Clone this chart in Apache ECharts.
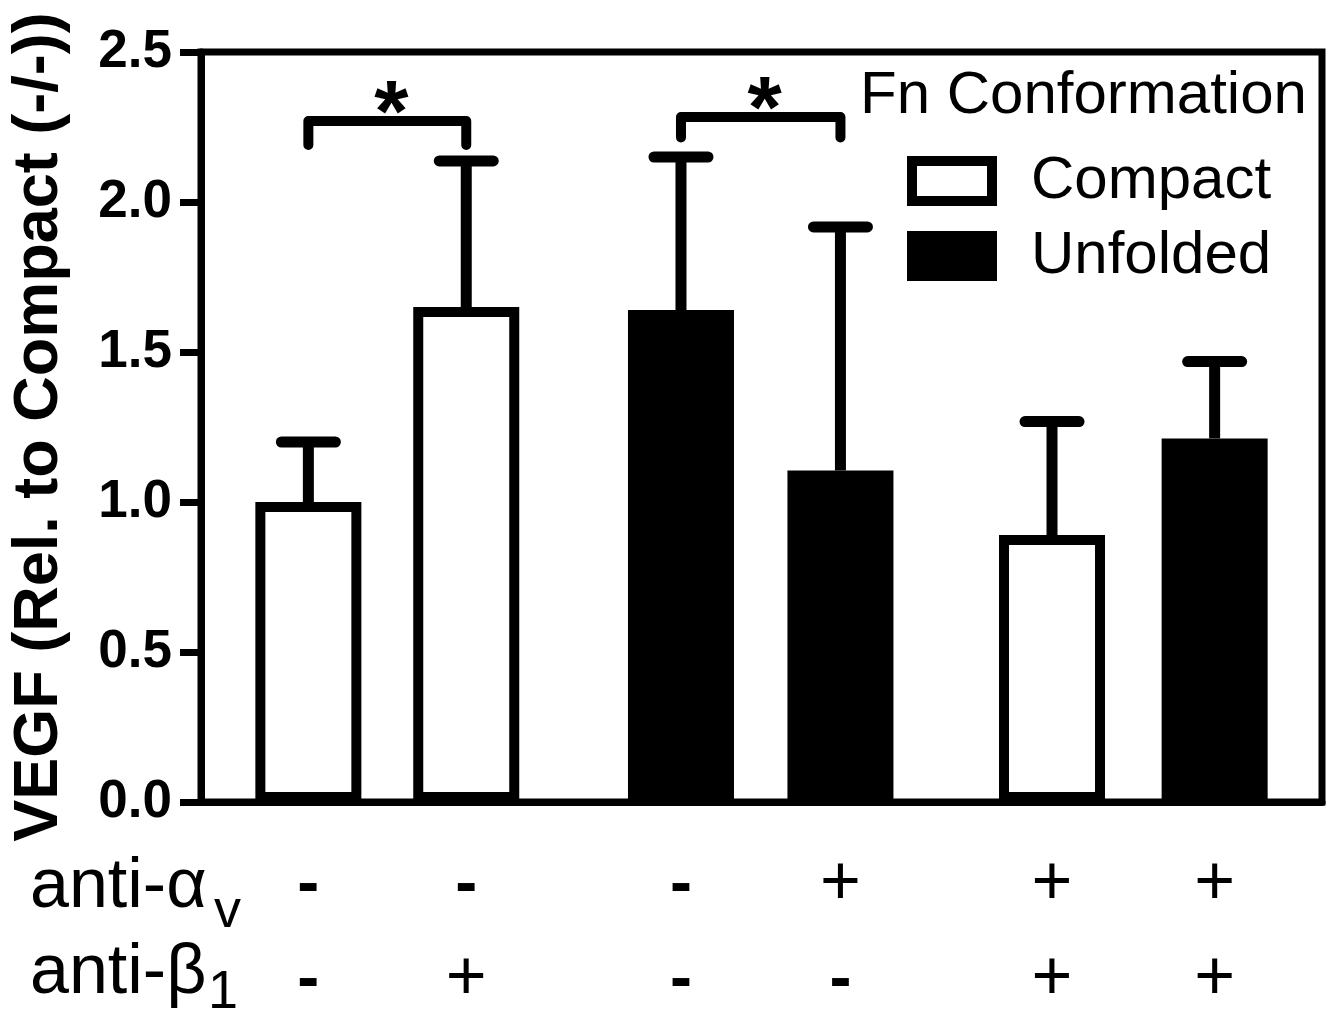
<!DOCTYPE html>
<html>
<head>
<meta charset="utf-8">
<script src="https://cdn.jsdelivr.net/npm/echarts@6/dist/echarts.min.js"></script>
<style>html,body{margin:0;padding:0;background:#fff}#c{width:1335px;height:1020px}</style>
</head>
<body>
<div id="c"></div>
<script>
// ---- data ----
const barPos = [0.68, 1.68, 3.04, 4.05, 5.39, 6.42];
const conformation = ['Compact', 'Compact', 'Unfolded', 'Unfolded', 'Compact', 'Unfolded'];
const means = [1.00, 1.65, 1.64, 1.105, 0.89, 1.212];
const errUpper = [1.20, 2.137, 2.15, 1.917, 1.268, 1.468];
const antiAv = ['-', '-', '-', '+', '+', '+'];
const antiB1 = ['-', '+', '-', '-', '+', '+'];
const brackets = [[0, 1, 2.27, 2.19], [2, 3, 2.283, 2.215]];
const bracketLabels = ['*', '*'];
const seriesNames = ['Compact', 'Unfolded'];
const legendTitle = 'Fn Conformation';
const yTitle = 'VEGF (Rel. to Compact (-/-))';

const FONT = 'Liberation Sans, Arial, Helvetica, sans-serif';

function seriesData(name) {
  const out = [];
  barPos.forEach((x, i) => { if (conformation[i] === name) out.push([x, means[i]]); });
  return out;
}

const chart = echarts.init(document.getElementById('c'), null, { renderer: 'canvas' });

const option = {
  animation: false,
  backgroundColor: '#fff',
  textStyle: { fontFamily: FONT, color: '#000' },
  title: {
    text: legendTitle, left: 860, top: 66, padding: 0,
    textStyle: { fontFamily: FONT, fontSize: 60, fontWeight: 'normal', color: '#000' }
  },
  legend: {
    data: seriesNames, orient: 'vertical', left: 907, top: 151,
    itemWidth: 80, itemHeight: 40, itemGap: 15, icon: 'rect', selectedMode: false,
    padding: 0,
    itemStyle: { borderColor: '#000', borderWidth: 10 },
    textStyle: { fontFamily: FONT, fontSize: 60, color: '#000', padding: [0, 0, 0, 34] }
  },
  grid: {
    left: 201, right: 13, top: 52, bottom: 218,
    show: true, borderColor: '#000', borderWidth: 7, backgroundColor: 'transparent'
  },
  xAxis: {
    type: 'value', min: 0, max: 7.1,
    axisLine: { show: true, lineStyle: { color: '#000', width: 7 } },
    axisTick: { show: false }, axisLabel: { show: false }, splitLine: { show: false }
  },
  yAxis: {
    type: 'value', min: 0, max: 2.5, interval: 0.5,
    name: yTitle, nameLocation: 'middle', nameGap: 130,
    nameTextStyle: { fontFamily: FONT, fontSize: 63, fontWeight: 'bold', color: '#000' },
    axisLine: { show: true, lineStyle: { color: '#000', width: 7 } },
    axisTick: { show: true, length: 21, lineStyle: { color: '#000', width: 7 } },
    axisLabel: {
      margin: 29, fontFamily: FONT, fontSize: 53, fontWeight: 'bold', color: '#000',
      formatter: v => v.toFixed(1)
    },
    splitLine: { show: false }
  },
  series: [
    {
      name: 'Compact', type: 'bar', data: seriesData('Compact'),
      barWidth: 106, barGap: '-100%', z: 2,
      itemStyle: { color: '#fff', borderColor: '#000', borderWidth: 10 }
    },
    {
      name: 'Unfolded', type: 'bar', data: seriesData('Unfolded'),
      barWidth: 106, barGap: '-100%', z: 2,
      itemStyle: { color: '#000', borderColor: '#000', borderWidth: 10 }
    },
    {
      name: 'error', type: 'custom', z: 3,
      data: barPos.map((x, i) => [x, means[i], errUpper[i]]),
      renderItem: function (params, api) {
        const x = api.value(0), m = api.value(1), u = api.value(2);
        const p0 = api.coord([x, m]);
        const p1 = api.coord([x, u]);
        return {
          type: 'group', children: [
            { type: 'line', shape: { x1: p0[0], y1: p0[1], x2: p1[0], y2: p1[1] },
              style: { stroke: '#000', lineWidth: 11 } },
            { type: 'line', shape: { x1: p1[0] - 27, y1: p1[1], x2: p1[0] + 27, y2: p1[1] },
              style: { stroke: '#000', lineWidth: 11, lineCap: 'round' } }
          ]
        };
      }
    },
    {
      name: 'significance', type: 'custom', z: 4,
      data: brackets.map(b => [barPos[b[0]], barPos[b[1]], b[2], b[3]]),
      renderItem: function (params, api) {
        const x1 = api.value(0), x2 = api.value(1), yt = api.value(2), yb = api.value(3);
        const a = api.coord([x1, yb]), b = api.coord([x1, yt]);
        const c = api.coord([x2, yt]), d = api.coord([x2, yb]);
        return {
          type: 'group', children: [
            { type: 'polyline', shape: { points: [a, b, c, d] },
              style: { stroke: '#000', fill: null, lineWidth: 10, lineCap: 'round', lineJoin: 'round' } },
            { type: 'text', style: {
                text: bracketLabels[params.dataIndex], x: (b[0] + c[0]) / 2 + 4, y: b[1] - 4,
                align: 'center', verticalAlign: 'middle',
                fontFamily: FONT, fontSize: 88, fontWeight: 'bold', fill: '#000' } }
          ]
        };
      }
    },
    {
      name: 'treatment', type: 'custom', z: 4, clip: false,
      data: barPos.map(x => [x, 0]),
      renderItem: function (params, api) {
        const p = api.coord([api.value(0), 0]);
        const i = params.dataIndex;
        function sign(s, y) {
          const minus = s === '-';
          return { type: 'text', style: {
            text: s, x: p[0], y: minus ? y + 2 : y + 1, align: 'center', verticalAlign: 'middle',
            fontFamily: FONT, fontSize: minus ? 66 : 70, fontWeight: minus ? 'bold' : 'normal', fill: '#000' } };
        }
        return { type: 'group', children: [sign(antiAv[i], p[1] + 82), sign(antiB1[i], p[1] + 177)] };
      }
    }
  ],
  graphic: [
    { type: 'text', left: 30, top: 888 - 35, style: { text: 'anti-\u03b1', fontFamily: FONT, fontSize: 70, fill: '#000' } },
    { type: 'text', left: 214, top: 912 - 27, style: { text: 'v', fontFamily: FONT, fontSize: 54, fill: '#000' } },
    { type: 'text', left: 30, top: 974 - 35, style: { text: 'anti-\u03b2', fontFamily: FONT, fontSize: 70, fill: '#000' } },
    { type: 'text', left: 208, top: 993 - 27, style: { text: '1', fontFamily: FONT, fontSize: 54, fill: '#000' } }
  ]
};
chart.setOption(option);
</script>
</body>
</html>
